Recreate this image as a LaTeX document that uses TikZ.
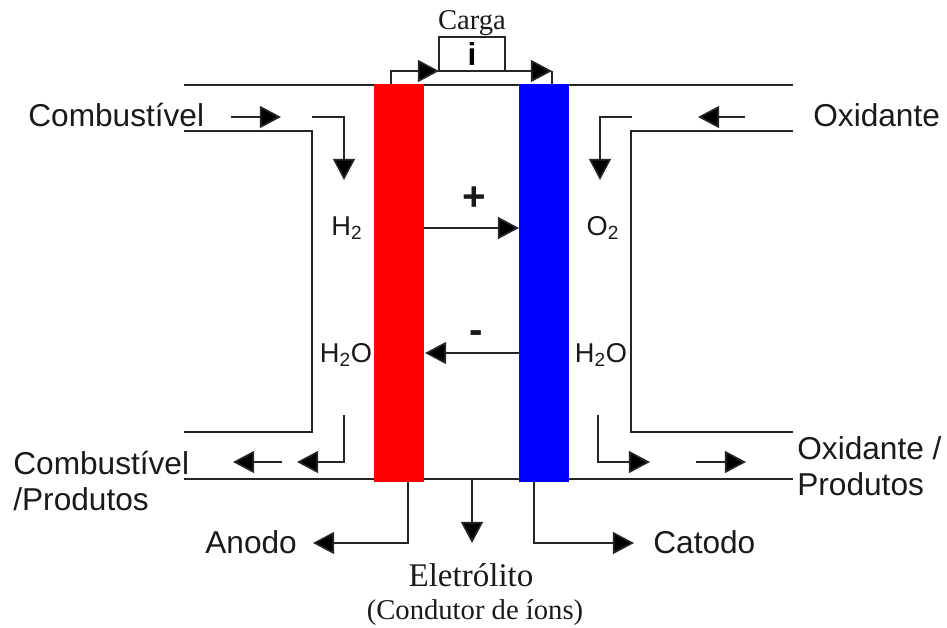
\documentclass[tikz,border=0pt]{standalone}
\usepackage{fontspec}
\setmainfont{Liberation Sans}
\newfontfamily\timesfont{Liberation Serif}
\usetikzlibrary{arrows.meta,positioning}
\definecolor{fcred}{HTML}{FF0000}
\definecolor{fcblue}{HTML}{0000FF}
\definecolor{fcdark}{HTML}{1A1A1A}
\tikzset{
  plate/.style={minimum width=1cm,minimum height=7.96cm,inner sep=0pt,outer sep=0pt},
  lab/.style={font=\fontsize{18}{20.5}\selectfont,text=fcdark,inner sep=0pt,align=left},
  gas/.style={font=\fontsize{15.5}{18}\selectfont,text=fcdark,inner sep=0pt},
  ser/.style={font=\timesfont\fontsize{16.3}{19}\selectfont,text=fcdark,inner sep=0pt},
  wall/.style={line width=0.95pt,black!85},
  ar/.style={-{Triangle[length=12pt,width=12.5pt,fill=black]},line width=0.95pt,black!85},
}
\begin{document}
\begin{tikzpicture}[x=0.02cm,y=-0.02cm,node distance=1.9cm]
      \useasboundingbox (0,0) rectangle (947,628);
      % rails and channel walls
      \coordinate (tl) at (184,85);
      \coordinate (tr) at (793,85);
      \coordinate (bl) at (184,479);
      \coordinate (br) at (793,479);
      \draw[wall](tl)--(tr);
      \draw[wall](bl)--(br);
      \draw[wall](184,131)-|(312,432)--(184,432);
      \draw[wall](793,131)-|(631,432)--(793,432);
      % electrodes
      \node[plate,fill=fcred] (an) at (399,283) {};
      \node[plate,fill=fcblue,right=of an] (ca) {};
      \node[draw=black!85,line width=0.95pt,minimum width=1.32cm,minimum height=0.68cm,inner sep=0pt,outer sep=0pt,
            font=\bfseries\fontsize{18}{20}\selectfont] (load) at (472,54) {i};
      \node[ser,above=0.2mm of load] (car) {Carga};
      % labels
      \node[lab,anchor=base west] (cb) at (28,127) {Combustível};
      \node[lab,anchor=base west] (ox) at (813,127) {Oxidante};
      \node[lab,anchor=west] (cp) at (13,481) {Combustível\\/Produtos};
      \node[lab,anchor=west] (op) at (797,466) {Oxidante /\\Produtos};
      \node[lab,anchor=base west] (and) at (205,553) {Anodo};
      \node[lab,anchor=base west] (cat) at (653,553) {Catodo};
      \node[ser,font=\timesfont\fontsize{18.8}{20}\selectfont,anchor=base] (el) at (471,586) {Eletrólito};
      \node[ser,anchor=base] (con) at (475,619) {(Condutor de íons)};
      \node[gas] (h2) at (347,228) {H\textsubscript{2}};
      \node[gas] (o2) at (603,228) {O\textsubscript{2}};
      \node[gas] (h2a) at (346,355) {H\textsubscript{2}O};
      \node[gas] (h2c) at (601,355) {H\textsubscript{2}O};
      \node[lab,font=\bfseries\fontsize{23}{24}\selectfont] (plus) at (474,199) {+};
      \node[lab,font=\bfseries\fontsize{23}{24}\selectfont] (minus) at (476,337) {-};
      % load circuit
      \coordinate (l1) at (391,84);
      \coordinate (l2) at (552,84);
      \coordinate (l3) at (552,71);
      \draw[ar](l1)|-(load.south west);
      \draw[ar](load.south east)--(l3);
      \draw[wall](l3)--(l2);
      % ions
      \coordinate (pa) at (424,228);
      \coordinate (pc) at (519,228);
      \coordinate (ma) at (425,353);
      \coordinate (mc) at (519,353);
      \draw[ar](pa)--(pc);
      \draw[ar](mc)--(ma);
      % fuel side
      \coordinate (f1) at (231,117);
      \coordinate (f2) at (281,117);
      \coordinate (f3) at (312,117);
      \coordinate (f4) at (344,180);
      \draw[ar](f1)--(f2);
      \draw[ar](f3)-|(f4);
      \coordinate (f5) at (344,415);
      \coordinate (f6) at (297,462);
      \coordinate (f7) at (282,462);
      \coordinate (f8) at (233,462);
      \draw[ar](f5)|-(f6);
      \draw[ar](f7)--(f8);
      % oxidant side
      \coordinate (o1) at (745,117);
      \coordinate (o2x) at (698,117);
      \coordinate (o3) at (632,117);
      \coordinate (o4) at (600,180);
      \draw[ar](o1)--(o2x);
      \draw[ar](o3)-|(o4);
      \coordinate (o5) at (598,415);
      \coordinate (o6) at (650,462);
      \coordinate (o7) at (696,462);
      \coordinate (o8) at (746,462);
      \draw[ar](o5)|-(o6);
      \draw[ar](o7)--(o8);
      % terminals
      \coordinate (t1) at (408,482);
      \coordinate (t2) at (313,543);
      \coordinate (t3) at (534,482);
      \coordinate (t4) at (634,543);
      \coordinate (t5) at (472,479);
      \coordinate (t6) at (472,543);
      \draw[ar](t1)|-(t2);
      \draw[ar](t3)|-(t4);
      \draw[ar](t5)--(t6);
    \end{tikzpicture}
\end{document}
